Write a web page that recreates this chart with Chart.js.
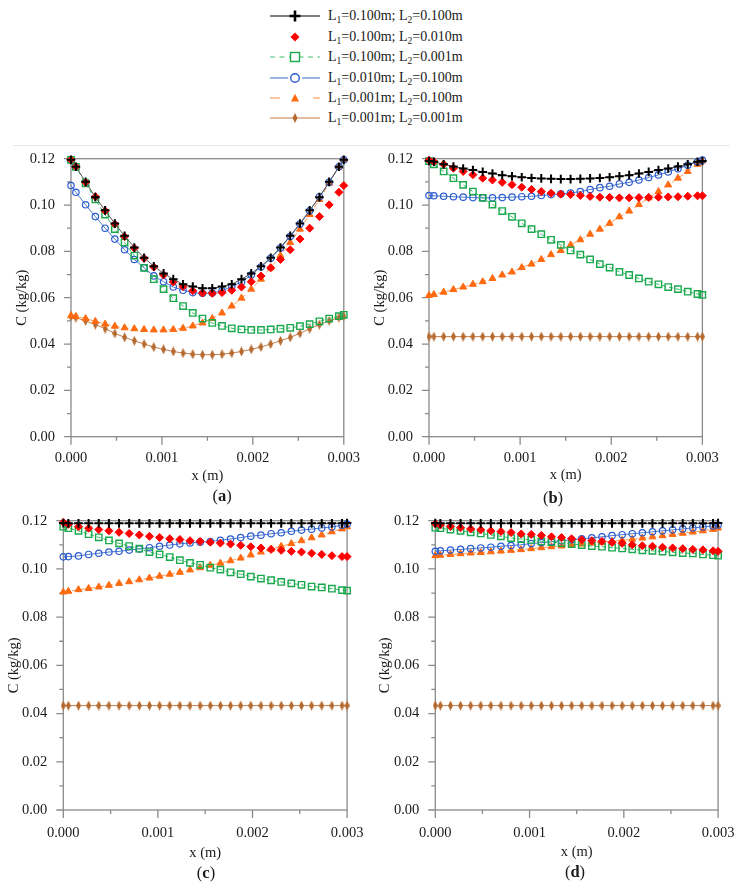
<!DOCTYPE html>
<html><head><meta charset="utf-8">
<script src="https://cdn.jsdelivr.net/npm/chart.js@4/dist/chart.umd.min.js"></script>
<style>
body{margin:0;background:#fff;width:749px;height:886px;position:relative;overflow:hidden;font-family:'Liberation Serif','Times New Roman',serif;color:#1a1a1a;}
canvas.c{position:absolute;}
.lbl{position:absolute;font-size:16.5px;transform:translate(-50%,-50%);white-space:nowrap;}
.row{position:absolute;left:268px;height:20px;}
.row svg{position:absolute;left:0;top:0;}
.row span.t{position:absolute;left:60px;top:0;line-height:20px;font-size:14px;white-space:nowrap;}
.row sub{font-size:9.5px;vertical-align:-3px;line-height:0;}
#sep{position:absolute;left:13px;top:145px;width:717px;height:1px;background:#e6e6e6;}
</style></head><body>
<div id="sep"></div>
<script>
// ---------- data ----------
const xPos = [0, 0.0000536, 0.0001607, 0.0002679, 0.0003750, 0.0004821, 0.0005893, 0.0006964, 0.0008036, 0.0009107,
  0.0010179, 0.0011250, 0.0012321, 0.0013393, 0.0014464, 0.0015536, 0.0016607, 0.0017679, 0.0018750, 0.0019821,
  0.0020893, 0.0021964, 0.0023036, 0.0024107, 0.0025179, 0.0026250, 0.0027321, 0.0028393, 0.0029464, 0.0030];

const seriesL1 = ['0.100', '0.100', '0.100', '0.010', '0.001', '0.001'];
const seriesL2 = ['0.100', '0.010', '0.001', '0.100', '0.100', '0.001'];

const yTickLabels = ['0.00', '0.02', '0.04', '0.06', '0.08', '0.10', '0.12'];
const yMajor = [0, 0.02, 0.04, 0.06, 0.08, 0.10, 0.12];
const yTickMarks = [0, 0.01, 0.02, 0.03, 0.04, 0.05, 0.06, 0.07, 0.08, 0.09, 0.10, 0.11, 0.12];
const xTickLabels = ['0.000', '0.001', '0.002', '0.003'];
const xMajor = [0, 0.001, 0.002, 0.003];
const xTickMarks = [0, 0.0005, 0.001, 0.0015, 0.002, 0.0025, 0.003];
const panelNames = ['a', 'b', 'c', 'd'];

// panel (a)
const blackA = [0.1195,0.1165,0.1100,0.1034,0.0977,0.0920,0.0867,0.0817,0.0772,0.0736,0.0705,0.0680,0.0658,0.0648,0.0641,0.0641,0.0648,0.0658,0.0680,0.0705,0.0736,0.0772,0.0817,0.0867,0.0920,0.0977,0.1034,0.1100,0.1165,0.1195];
const redA   = [0.1195,0.1165,0.1098,0.1036,0.0975,0.0918,0.0864,0.0814,0.0770,0.0732,0.0698,0.0668,0.0648,0.0630,0.0620,0.0619,0.0622,0.0632,0.0646,0.0669,0.0694,0.0729,0.0765,0.0807,0.0853,0.0900,0.0950,0.1001,0.1055,0.1084];
const greenA = [0.1195,0.1165,0.1094,0.1024,0.0959,0.0896,0.0838,0.0782,0.0729,0.0680,0.0637,0.0598,0.0564,0.0534,0.0510,0.0491,0.0478,0.0468,0.0463,0.0461,0.0461,0.0463,0.0466,0.0470,0.0477,0.0486,0.0498,0.0510,0.0520,0.0526];
const blueA  = [0.1084,0.1055,0.1001,0.0950,0.0900,0.0853,0.0807,0.0765,0.0729,0.0694,0.0669,0.0646,0.0632,0.0622,0.0619,0.0620,0.0630,0.0648,0.0668,0.0698,0.0732,0.0770,0.0814,0.0864,0.0918,0.0975,0.1036,0.1098,0.1165,0.1195];
const orangeA= [0.0522,0.0519,0.0510,0.0498,0.0486,0.0477,0.0470,0.0466,0.0463,0.0461,0.0461,0.0463,0.0468,0.0478,0.0491,0.0510,0.0534,0.0564,0.0598,0.0637,0.0680,0.0729,0.0782,0.0838,0.0896,0.0959,0.1024,0.1094,0.1165,0.1195];
const brownA = [0.0520,0.0514,0.0500,0.0484,0.0466,0.0446,0.0429,0.0414,0.0400,0.0387,0.0377,0.0368,0.0361,0.0356,0.0354,0.0354,0.0356,0.0361,0.0368,0.0377,0.0387,0.0400,0.0414,0.0429,0.0446,0.0466,0.0484,0.0500,0.0514,0.0520];

// panel (b)
const blackB = [0.1190,0.1187,0.1176,0.1166,0.1158,0.1151,0.1143,0.1136,0.1129,0.1124,0.1120,0.1117,0.1115,0.1113,0.1112,0.1112,0.1113,0.1115,0.1117,0.1120,0.1124,0.1129,0.1136,0.1143,0.1151,0.1158,0.1166,0.1176,0.1187,0.1190];
const redB   = [0.1193,0.1187,0.1176,0.1159,0.1145,0.1131,0.1116,0.1108,0.1098,0.1088,0.1077,0.1067,0.1058,0.1051,0.1047,0.1045,0.1041,0.1037,0.1034,0.1033,0.1031,0.1031,0.1032,0.1033,0.1034,0.1035,0.1036,0.1038,0.1040,0.1040];
const greenB = [0.1190,0.1176,0.1145,0.1116,0.1087,0.1058,0.1031,0.1002,0.0974,0.0949,0.0921,0.0896,0.0874,0.0850,0.0828,0.0804,0.0786,0.0765,0.0745,0.0730,0.0711,0.0698,0.0683,0.0669,0.0658,0.0646,0.0637,0.0626,0.0616,0.0612];
const blueB  = [0.1041,0.1040,0.1038,0.1036,0.1034,0.1032,0.1031,0.1031,0.1032,0.1034,0.1036,0.1038,0.1041,0.1045,0.1048,0.1052,0.1058,0.1067,0.1075,0.1081,0.1091,0.1098,0.1108,0.1119,0.1130,0.1143,0.1157,0.1172,0.1186,0.1194];
const orangeB= [0.0610,0.0614,0.0624,0.0635,0.0646,0.0658,0.0669,0.0683,0.0698,0.0711,0.0730,0.0745,0.0765,0.0786,0.0804,0.0828,0.0850,0.0874,0.0896,0.0921,0.0949,0.0974,0.1002,0.1031,0.1058,0.1087,0.1116,0.1145,0.1176,0.1190];
const brownB = [0.0432,0.0432,0.0432,0.0432,0.0432,0.0432,0.0432,0.0432,0.0432,0.0432,0.0432,0.0432,0.0432,0.0432,0.0432,0.0432,0.0432,0.0432,0.0432,0.0432,0.0432,0.0432,0.0432,0.0432,0.0432,0.0432,0.0432,0.0432,0.0432,0.0432];

// panel (c)
const blackC = [0.1190,0.1189,0.1189,0.1189,0.1189,0.1189,0.1189,0.1189,0.1189,0.1189,0.1189,0.1189,0.1189,0.1189,0.1189,0.1189,0.1189,0.1189,0.1189,0.1189,0.1189,0.1189,0.1189,0.1189,0.1189,0.1189,0.1189,0.1189,0.1189,0.1190];
const redC   = [0.1193,0.1185,0.1175,0.1169,0.1163,0.1158,0.1152,0.1147,0.1141,0.1135,0.1130,0.1125,0.1122,0.1117,0.1114,0.1111,0.1107,0.1103,0.1098,0.1092,0.1087,0.1081,0.1077,0.1073,0.1070,0.1065,0.1060,0.1055,0.1051,0.1051];
const greenC = [0.1175,0.1169,0.1158,0.1144,0.1131,0.1118,0.1106,0.1095,0.1084,0.1070,0.1060,0.1049,0.1036,0.1025,0.1017,0.1005,0.0997,0.0986,0.0978,0.0968,0.0960,0.0953,0.0946,0.0940,0.0934,0.0927,0.0923,0.0918,0.0912,0.0910];
const blueC  = [0.1050,0.1051,0.1054,0.1060,0.1065,0.1070,0.1073,0.1078,0.1083,0.1088,0.1094,0.1099,0.1104,0.1108,0.1111,0.1114,0.1119,0.1124,0.1130,0.1136,0.1140,0.1146,0.1150,0.1156,0.1161,0.1165,0.1170,0.1174,0.1181,0.1186];
const orangeC= [0.0904,0.0907,0.0914,0.0919,0.0925,0.0932,0.0940,0.0947,0.0955,0.0962,0.0970,0.0978,0.0986,0.0996,0.1005,0.1015,0.1024,0.1034,0.1045,0.1058,0.1070,0.1082,0.1094,0.1105,0.1117,0.1129,0.1141,0.1154,0.1166,0.1175];
const brownC = [0.0433,0.0433,0.0433,0.0433,0.0433,0.0433,0.0433,0.0433,0.0433,0.0433,0.0433,0.0433,0.0433,0.0433,0.0433,0.0433,0.0433,0.0433,0.0433,0.0433,0.0433,0.0433,0.0433,0.0433,0.0433,0.0433,0.0433,0.0433,0.0433,0.0433];

// panel (d)
const blackD = [0.1190,0.1189,0.1189,0.1189,0.1189,0.1189,0.1189,0.1189,0.1189,0.1189,0.1189,0.1189,0.1189,0.1189,0.1189,0.1189,0.1189,0.1189,0.1189,0.1189,0.1189,0.1189,0.1189,0.1189,0.1189,0.1189,0.1189,0.1189,0.1189,0.1190];
const redD   = [0.1187,0.1182,0.1176,0.1171,0.1166,0.1162,0.1158,0.1155,0.1151,0.1145,0.1143,0.1139,0.1133,0.1130,0.1125,0.1121,0.1117,0.1114,0.1110,0.1106,0.1100,0.1096,0.1094,0.1090,0.1087,0.1084,0.1081,0.1079,0.1075,0.1073];
const greenD = [0.1171,0.1169,0.1163,0.1158,0.1152,0.1147,0.1141,0.1135,0.1128,0.1124,0.1120,0.1114,0.1111,0.1107,0.1103,0.1099,0.1095,0.1092,0.1088,0.1085,0.1081,0.1077,0.1075,0.1072,0.1069,0.1066,0.1064,0.1060,0.1057,0.1055];
const blueD  = [0.1073,0.1075,0.1078,0.1081,0.1084,0.1087,0.1090,0.1094,0.1097,0.1100,0.1105,0.1109,0.1113,0.1117,0.1121,0.1125,0.1129,0.1133,0.1138,0.1142,0.1146,0.1150,0.1154,0.1158,0.1162,0.1166,0.1170,0.1174,0.1178,0.1182];
const orangeD= [0.1055,0.1057,0.1060,0.1063,0.1066,0.1068,0.1071,0.1074,0.1077,0.1080,0.1084,0.1088,0.1092,0.1095,0.1099,0.1103,0.1107,0.1111,0.1115,0.1119,0.1123,0.1128,0.1133,0.1138,0.1143,0.1148,0.1153,0.1158,0.1164,0.1170];
const brownD = [0.0433,0.0433,0.0433,0.0433,0.0433,0.0433,0.0433,0.0433,0.0433,0.0433,0.0433,0.0433,0.0433,0.0433,0.0433,0.0433,0.0433,0.0433,0.0433,0.0433,0.0433,0.0433,0.0433,0.0433,0.0433,0.0433,0.0433,0.0433,0.0433,0.0433];

// ---------- styles ----------
const FONT = "'Liberation Serif','Times New Roman',serif";
const tickFont = {family: FONT, size: 14.5};
const TXT = '#1a1a1a';

const brownImg = document.createElement('canvas');
brownImg.width = 5; brownImg.height = 10;
(function(){const g = brownImg.getContext('2d'); g.fillStyle = '#b5692e'; g.beginPath();
  g.moveTo(2.5,0); g.lineTo(5,5); g.lineTo(2.5,10); g.lineTo(0,5); g.closePath(); g.fill();})();

const styles = [
  {line:true,  lc:'#555555', lw:1, dash:[],    ps:'cross',    r:4.3, pc:'#000000', pf:'#000000', pbw:2},
  {line:false, lc:'#ff0000', lw:1, dash:[],    ps:'rectRot',  r:4,   pc:'#ff0000', pf:'#ff0000', pbw:1},
  {line:true,  lc:'#35b866', lw:1, dash:[4,3], ps:'rect',     r:4.5, pc:'#1aa84c', pf:'rgba(255,255,255,0)', pbw:1.4},
  {line:true,  lc:'#4a78cc', lw:1, dash:[],    ps:'circle',   r:3.2, pc:'#2a5bd0', pf:'rgba(255,255,255,0)', pbw:1.2},
  {line:true,  lc:'#ff9c5a', lw:1, dash:[5,4], ps:'triangle', r:4,   pc:'#ff6a10', pf:'#ff6a10', pbw:1},
  {line:true,  lc:'#c47d48', lw:1, dash:[],    ps:brownImg,   r:5,   pc:'#b5692e', pf:'#b5692e', pbw:1}
];

// ---------- legend ----------
const rowY = [15.7, 36.7, 57.3, 77.7, 98.3, 118.3];
const legendSvg = [
  '<line x1="2" y1="10" x2="52" y2="10" stroke="#000" stroke-width="1.1"/><path d="M21.5 10H32.5M27 4.5V15.5" stroke="#000" stroke-width="2.6"/>',
  '<path d="M27 5.5L31.5 10L27 14.5L22.5 10Z" fill="#ff0000"/>',
  '<line x1="2" y1="10" x2="52" y2="10" stroke="#3cc070" stroke-width="1.1" stroke-dasharray="5 4.5"/><rect x="22.5" y="5.5" width="9" height="9" fill="#fff" stroke="#1aa84c" stroke-width="1.4"/>',
  '<line x1="2" y1="10" x2="20" y2="10" stroke="#4a78cc" stroke-width="1.1"/><line x1="34" y1="10" x2="52" y2="10" stroke="#4a78cc" stroke-width="1.1"/><circle cx="27" cy="10" r="4.3" fill="#fff" stroke="#2a5bd0" stroke-width="1.4"/>',
  '<line x1="2" y1="10" x2="12" y2="10" stroke="#ffa060" stroke-width="1.2"/><line x1="45" y1="10" x2="52" y2="10" stroke="#ffa060" stroke-width="1.2"/><path d="M27 5.8L31 13.4L23 13.4Z" fill="#ff6a10"/>',
  '<line x1="2" y1="10" x2="52" y2="10" stroke="#c47d48" stroke-width="1.1"/><path d="M27 5L29.5 10L27 15L24.5 10Z" fill="#b5692e"/>'
];
seriesL1.forEach((l1, i) => {
  const d = document.createElement('div');
  d.className = 'row';
  d.style.top = (rowY[i] - 10) + 'px';
  d.innerHTML = '<svg width="56" height="20">' + legendSvg[i] + '</svg>' +
    '<span class="t">L<sub>1</sub>=' + l1 + 'm; L<sub>2</sub>=' + seriesL2[i] + 'm</span>';
  document.body.appendChild(d);
});

// ---------- charts ----------
const framePlugin = {
  id: 'frame',
  beforeDatasetsDraw(chart) {
    const {ctx, chartArea: a, scales: {x, y}} = chart;
    ctx.save();
    ctx.strokeStyle = '#8a8a8a';
    ctx.lineWidth = 1.3;
    ctx.strokeRect(a.left, a.top, a.right - a.left, a.bottom - a.top);
    ctx.beginPath();
    yTickMarks.forEach((v, i) => {
      const py = y.getPixelForValue(v);
      const len = i % 2 === 0 ? 7 : 4;
      ctx.moveTo(a.left, py); ctx.lineTo(a.left - len, py);
    });
    xTickMarks.forEach((v, i) => {
      const px = x.getPixelForValue(v);
      const len = i % 2 === 0 ? 8 : 4;
      ctx.moveTo(px, a.bottom); ctx.lineTo(px, a.bottom + len);
    });
    ctx.stroke();
    ctx.restore();
  }
};

function makeDataset(i, values) {
  const s = styles[i];
  return {
    label: 'L1=' + seriesL1[i] + 'm; L2=' + seriesL2[i] + 'm',
    data: xPos.map((x, k) => ({x: x, y: values[k]})),
    showLine: s.line,
    borderColor: s.lc, borderWidth: s.lw, borderDash: s.dash,
    pointStyle: s.ps, pointRadius: s.r,
    pointBorderColor: s.pc, pointBackgroundColor: s.pf, pointBorderWidth: s.pbw,
    fill: false, tension: 0, clip: false
  };
}

const panels = [
  {series:[blackA, redA, greenA, blueA, orangeA, brownA], l:71,    r:354,   t:154.3, b:436.7, xTickOff:21.6, xTitleOff:39.5, yTitleDist:49, lab:[222,496]},
  {series:[blackB, redB, greenB, blueB, orangeB, brownB], l:429,   r:711.7, t:154.3, b:436.7, xTickOff:21.0, xTitleOff:38.8, yTitleDist:49, lab:[553,497.5]},
  {series:[blackC, redC, greenC, blueC, orangeC, brownC], l:63.3,  r:358.7, t:515.7, b:810,   xTickOff:23.3, xTitleOff:42.7, yTitleDist:49, lab:[206,872.7]},
  {series:[blackD, redD, greenD, blueD, orangeD, brownD], l:435.3, r:730,   t:515.7, b:810,   xTickOff:23.3, xTitleOff:42.0, yTitleDist:50, lab:[575,871.7]}
];

panels.forEach((p, pi) => {
  const x0 = Math.round(p.l - 60);
  const yW = p.l - x0;
  const y0 = Math.round(p.t - 20);
  const topPad = p.t - y0;
  const XH = 66;
  const W = Math.ceil(p.r - x0 + 19);
  const H = Math.ceil(p.b - y0 + XH + 2);
  const padRight = W - (p.r - x0);
  const padBottom = H - (p.b - y0) - XH;
  const cv = document.createElement('canvas');
  cv.width = W; cv.height = H; cv.className = 'c';
  cv.style.left = x0 + 'px'; cv.style.top = y0 + 'px';
  document.body.appendChild(cv);
  const lh = 14.5 * 1.2;
  new Chart(cv, {
    type: 'scatter',
    data: {datasets: p.series.map((vals, i) => makeDataset(i, vals))},
    options: {
      responsive: false, animation: false, devicePixelRatio: 1,
      layout: {padding: {left: 0, top: topPad, right: padRight, bottom: padBottom}},
      plugins: {legend: {display: false}, tooltip: {enabled: false}},
      scales: {
        x: {
          type: 'linear', min: 0, max: 0.003,
          grid: {display: false, drawTicks: false, tickLength: 0}, border: {display: false},
          afterBuildTicks: s => { s.ticks = xMajor.map(v => ({value: v})); },
          afterFit: s => { s.height = XH; },
          ticks: {font: tickFont, color: TXT, padding: p.xTickOff - lh / 2, maxRotation: 0, minRotation: 0, autoSkip: false,
                  callback: (v, i) => xTickLabels[i]},
          title: {display: true, text: 'x (m)', font: tickFont, color: TXT,
                  padding: {top: 0, bottom: XH - p.xTitleOff - lh / 2}}
        },
        y: {
          type: 'linear', min: 0, max: 0.12,
          grid: {display: false, drawTicks: false, tickLength: 0}, border: {display: false},
          afterBuildTicks: s => { s.ticks = yMajor.map(v => ({value: v})); },
          afterFit: s => { s.width = yW; },
          ticks: {font: tickFont, color: TXT, padding: 16, autoSkip: false,
                  callback: (v, i) => yTickLabels[i]},
          title: {display: true, text: 'C (kg/kg)', font: tickFont, color: TXT,
                  padding: {top: yW - p.yTitleDist - lh / 2, bottom: 0}}
        }
      }
    },
    plugins: [framePlugin]
  });
  const lb = document.createElement('div');
  lb.className = 'lbl';
  lb.style.left = p.lab[0] + 'px'; lb.style.top = p.lab[1] + 'px';
  lb.innerHTML = '(<b>' + panelNames[pi] + '</b>)';
  document.body.appendChild(lb);
});
</script>
</body></html>
